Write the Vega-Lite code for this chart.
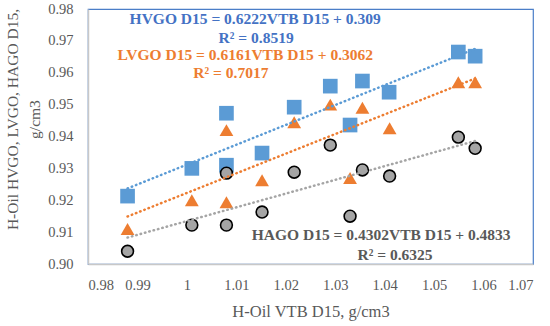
{
  "$schema": "https://vega.github.io/schema/vega-lite/v6.json",
  "width": 445,
  "height": 255,
  "autosize": {"type": "none"},
  "padding": {"left": 88, "top": 9, "right": 17, "bottom": 62},
  "background": "white",
  "config": {
    "view": {"stroke": "#4A7EC8", "strokeWidth": 1.2},
    "font": "Liberation Serif",
    "axis": {
      "labelFont": "Liberation Serif",
      "titleFont": "Liberation Serif",
      "labelColor": "#595959",
      "titleColor": "#595959",
      "labelFontSize": 14.5,
      "titleFontSize": 16.5,
      "titleFontWeight": "normal",
      "grid": false,
      "ticks": false,
      "domainColor": "#C8C8C8",
      "domainWidth": 1.5
    }
  },
  "datasets": {
    "pts": [
      {"s": "HVGO", "x": 0.988, "y": 0.9213},
      {"s": "HVGO", "x": 1.001, "y": 0.930},
      {"s": "HVGO", "x": 1.008, "y": 0.9473},
      {"s": "HVGO", "x": 1.008, "y": 0.931},
      {"s": "HVGO", "x": 1.0152, "y": 0.9348},
      {"s": "HVGO", "x": 1.0217, "y": 0.9492},
      {"s": "HVGO", "x": 1.029, "y": 0.9558},
      {"s": "HVGO", "x": 1.033, "y": 0.9436},
      {"s": "HVGO", "x": 1.0355, "y": 0.9574},
      {"s": "HVGO", "x": 1.0409, "y": 0.9539},
      {"s": "HVGO", "x": 1.0549, "y": 0.9665},
      {"s": "HVGO", "x": 1.0583, "y": 0.9652},
      {"s": "LVGO", "x": 0.988, "y": 0.911},
      {"s": "LVGO", "x": 1.001, "y": 0.920},
      {"s": "LVGO", "x": 1.008, "y": 0.942},
      {"s": "LVGO", "x": 1.008, "y": 0.9194},
      {"s": "LVGO", "x": 1.0152, "y": 0.9263},
      {"s": "LVGO", "x": 1.0217, "y": 0.9445},
      {"s": "LVGO", "x": 1.029, "y": 0.950},
      {"s": "LVGO", "x": 1.033, "y": 0.927},
      {"s": "LVGO", "x": 1.0355, "y": 0.949},
      {"s": "LVGO", "x": 1.041, "y": 0.9426},
      {"s": "LVGO", "x": 1.0549, "y": 0.957},
      {"s": "LVGO", "x": 1.0583, "y": 0.957},
      {"s": "HAGO", "x": 0.988, "y": 0.904},
      {"s": "HAGO", "x": 1.001, "y": 0.9122},
      {"s": "HAGO", "x": 1.008, "y": 0.9285},
      {"s": "HAGO", "x": 1.008, "y": 0.9122},
      {"s": "HAGO", "x": 1.0152, "y": 0.9163},
      {"s": "HAGO", "x": 1.0217, "y": 0.9288},
      {"s": "HAGO", "x": 1.029, "y": 0.9373},
      {"s": "HAGO", "x": 1.033, "y": 0.915},
      {"s": "HAGO", "x": 1.0355, "y": 0.9295},
      {"s": "HAGO", "x": 1.041, "y": 0.9276},
      {"s": "HAGO", "x": 1.0549, "y": 0.9398},
      {"s": "HAGO", "x": 1.0583, "y": 0.9363}
    ],
    "trend": [
      {"s": "HVGO", "x": 0.988, "y": 0.9237},
      {"s": "HVGO", "x": 1.0583, "y": 0.9675},
      {"s": "LVGO", "x": 0.988, "y": 0.9149},
      {"s": "LVGO", "x": 1.0583, "y": 0.9582},
      {"s": "HAGO", "x": 0.988, "y": 0.9083},
      {"s": "HAGO", "x": 1.0583, "y": 0.9386}
    ],
    "notes": [
      {"s": "HVGO", "x": 1.0138, "y": 0.9768, "t": "HVGO D15 = 0.6222VTB D15 + 0.309"},
      {"s": "HVGO", "x": 1.014, "y": 0.9708, "t": "R² = 0.8519"},
      {"s": "LVGO", "x": 1.0118, "y": 0.9655, "t": "LVGO D15 = 0.6161VTB D15 + 0.3062"},
      {"s": "LVGO", "x": 1.0089, "y": 0.9600, "t": "R² = 0.7017"},
      {"s": "HAGO", "x": 1.0393, "y": 0.9091, "t": "HAGO D15 = 0.4302VTB D15 + 0.4833"},
      {"s": "HAGO", "x": 1.0421, "y": 0.9028, "t": "R² = 0.6325"}
    ]
  },
  "encoding": {
    "x": {
      "field": "x", "type": "quantitative",
      "scale": {"domain": [0.98, 1.07], "nice": false, "zero": false},
      "axis": {"values": [0.98, 0.99, 1, 1.01, 1.02, 1.03, 1.04, 1.05, 1.06, 1.07], "format": ".3~r", "labelPadding": 14, "title": "H-Oil VTB D15, g/cm3", "titlePadding": 12}
    },
    "y": {
      "field": "y", "type": "quantitative",
      "scale": {"domain": [0.90, 0.98], "nice": false, "zero": false},
      "axis": {"values": [0.90, 0.91, 0.92, 0.93, 0.94, 0.95, 0.96, 0.97, 0.98], "format": ".2f", "labelPadding": 15, "title": ["H-Oil HVGO, LVGO, HAGO D15,", "g/cm3"], "titleFontSize": 15.5, "titlePadding": 5, "titleLineHeight": 22, "titleY": 110}
    }
  },
  "resolve": {"scale": {"color": "independent"}},
  "layer": [
    {
      "data": {"name": "pts"},
      "transform": [{"filter": "datum.s === 'HVGO'"}],
      "mark": {"type": "square", "size": 215, "filled": true, "color": "#5B9BD5", "opacity": 1}
    },
    {
      "data": {"name": "pts"},
      "transform": [{"filter": "datum.s === 'LVGO'"}],
      "mark": {"type": "point", "shape": "triangle-up", "size": 190, "filled": true, "color": "#ED7D31", "opacity": 1}
    },
    {
      "data": {"name": "pts"},
      "transform": [{"filter": "datum.s === 'HAGO'"}],
      "mark": {"type": "circle", "size": 140, "fill": "#A5A5A5", "stroke": "#000000", "strokeWidth": 1.6, "opacity": 1, "fillOpacity": 1}
    },
    {
      "data": {"name": "trend"},
      "mark": {"type": "line", "strokeWidth": 2.5, "strokeDash": [0.5, 4], "strokeCap": "round"},
      "encoding": {
        "detail": {"field": "s"},
        "color": {"field": "s", "type": "nominal", "scale": {"domain": ["HVGO", "LVGO", "HAGO"], "range": ["#5B9BD5", "#ED7D31", "#A5A5A5"]}, "legend": null}
      }
    },
    {
      "data": {"name": "notes"},
      "mark": {"type": "text", "font": "Liberation Serif", "fontSize": 15.5, "fontWeight": "bold", "align": "center", "baseline": "middle"},
      "encoding": {
        "text": {"field": "t"},
        "color": {"field": "s", "type": "nominal", "scale": {"domain": ["HVGO", "LVGO", "HAGO"], "range": ["#4472C4", "#ED7D31", "#595959"]}, "legend": null}
      }
    }
  ]
}
